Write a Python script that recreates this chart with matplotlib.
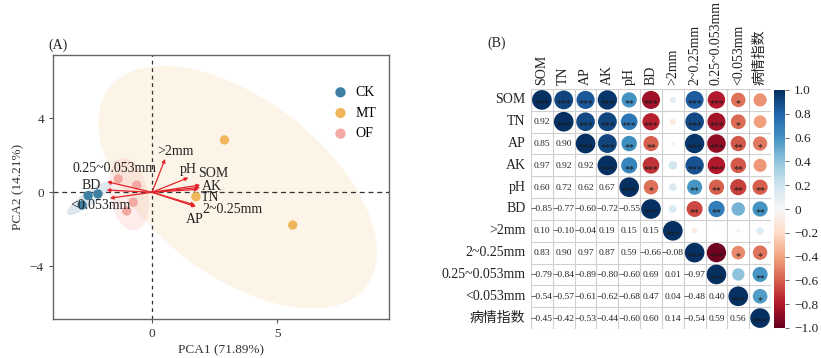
import numpy as np
import matplotlib
matplotlib.use('Agg')
import matplotlib.pyplot as plt
from matplotlib.patches import Ellipse, Circle

plt.rcParams['font.family'] = ['Liberation Serif', 'Noto Sans CJK SC', 'DejaVu Sans']
plt.rcParams['axes.unicode_minus'] = True

# ---------------- data: PCA scores ----------------
groups = ['CK', 'MT', 'OF']
group_colors = ['#3d7fa3', '#f0b65c', '#f3a9a2']
ck_pc1 = [-2.55, -2.16, -2.79]
ck_pc2 = [-0.18, -0.09, -0.69]
mt_pc1 = [2.89, 5.61, 1.75]
mt_pc2 = [2.83, -1.77, -0.24]
of_pc1 = [-1.35, -0.61, -0.75, -1.01]
of_pc2 = [0.72, 0.39, -0.54, -1.01]

# loadings (arrow tips)
load_names = ['>2mm', 'pH', 'SOM', 'AK', 'TN', '2~0.25mm', 'AP',
              '0.25~0.053mm', 'BD', '<0.053mm']
load_pc1 = [0.52, 1.45, 1.92, 1.92, 1.85, 1.72, 1.75, -1.79, -1.81, -1.68]
load_pc2 = [1.80, 0.79, 0.39, 0.27, 0.16, -0.69, -0.78, 0.57, 0.12, -0.32]
# label positions (layout)
label_x = [0.95, 1.44, 2.45, 2.4, 2.32, 3.2, 1.72, -1.5, -2.44, -2.05]
label_y = [2.2, 1.22, 1.02, 0.33, -0.3, -0.95, -1.45, 1.31, 0.39, -0.69]

# ---------------- data: correlation matrix (lower triangle) ----------------
vars_ = ['SOM', 'TN', 'AP', 'AK', 'pH', 'BD', '>2mm', '2~0.25mm',
         '0.25~0.053mm', '<0.053mm', '病情指数']
lower = [
    [],
    [0.92],
    [0.85, 0.90],
    [0.97, 0.92, 0.92],
    [0.60, 0.72, 0.62, 0.67],
    [-0.85, -0.77, -0.60, -0.72, -0.55],
    [0.10, -0.10, -0.04, 0.19, 0.15, 0.15],
    [0.83, 0.90, 0.97, 0.87, 0.59, -0.66, -0.08],
    [-0.79, -0.84, -0.89, -0.80, -0.60, 0.69, 0.01, -0.97],
    [-0.54, -0.57, -0.61, -0.62, -0.68, 0.47, 0.04, -0.48, 0.40],
    [-0.45, -0.42, -0.53, -0.44, -0.60, 0.60, 0.14, -0.54, 0.59, 0.56],
]
# significance stars, upper triangle, row i col j (j > i)
stars_upper = [
    ['***', '***', '***', '**', '***', '', '***', '***', '*', ''],
    ['***', '***', '***', '***', '', '***', '***', '*', ''],
    ['***', '**', '**', '', '***', '***', '**', '*'],
    ['**', '***', '', '***', '***', '**', ''],
    ['*', '', '**', '**', '**', '**'],
    ['', '**', '**', '', '**'],
    ['', '', '', ''],
    ['***', '*', '*'],
    ['', '**'],
    ['*'],
]

n = len(vars_)
corr = np.eye(n)
for i in range(n):
    for j, v in enumerate(lower[i]):
        corr[i, j] = v
        corr[j, i] = v

fig = plt.figure(figsize=(8.21, 3.58), dpi=100)

# ================= Panel A =================
ax = fig.add_axes([53 / 821, 39 / 358, 336 / 821, 264 / 358])
pc1_list = [ck_pc1, mt_pc1, of_pc1]
pc2_list = [ck_pc2, mt_pc2, of_pc2]
ell_scale = [2.8, 2.8, 2.45]
ell_alpha = [0.18, 0.15, 0.22]

for x, y, c, s, a in zip(pc1_list, pc2_list, group_colors, ell_scale, ell_alpha):
    x = np.array(x); y = np.array(y)
    cov = np.cov(x, y)
    vals, vecs = np.linalg.eigh(cov)
    order = vals.argsort()[::-1]
    vals, vecs = vals[order], vecs[:, order]
    ang = np.degrees(np.arctan2(vecs[1, 0], vecs[0, 0]))
    w, h = 2 * s * np.sqrt(vals)
    ax.add_patch(Ellipse((x.mean(), y.mean()), w, h, angle=ang,
                         facecolor=c, alpha=a, edgecolor='none', zorder=1))

ax.axhline(0, color='#333333', ls=(0, (4, 3)), lw=0.9, zorder=2)
ax.axvline(0, color='#333333', ls=(0, (3, 3)), lw=0.9, zorder=2)

for x, y, c, g in zip(pc1_list, pc2_list, group_colors, groups):
    ax.scatter(x, y, s=45, color=c, edgecolor='none', zorder=3, label=g)

for px, py, name, tx, ty in zip(load_pc1, load_pc2, load_names, label_x, label_y):
    ax.annotate('', xy=(px, py), xytext=(0, 0),
                arrowprops=dict(arrowstyle='-|>', color='#e3242b', lw=0.9,
                                mutation_scale=5, shrinkA=0, shrinkB=0),
                zorder=4)
    ax.text(tx, ty, name, fontsize=10, ha='center', va='center',
            color='#222222', zorder=5)

ax.set_xlim(-3.95, 9.45)
ax.set_ylim(-6.85, 7.42)
ax.set_xticks([0, 5])
ax.set_yticks([-4, 0, 4])
ax.set_xticklabels(['0', '5'])
ax.set_yticklabels(['\u22124', '0', '4'])
ax.tick_params(labelsize=9.5, length=3, width=0.8, color='#555555', labelcolor='#333333')
for sp in ax.spines.values():
    sp.set_color('#666666')
    sp.set_linewidth(1.0)
ax.set_xlabel('PCA1 (71.89%)', fontsize=9.5, color='#333333', labelpad=3)
ax.set_ylabel('PCA2 (14.21%)', fontsize=9.5, color='#333333', labelpad=4)
leg = ax.legend(loc='upper right', bbox_to_anchor=(1.0, 0.93), frameon=False,
                fontsize=10, handletextpad=0.1, labelspacing=0.55,
                scatterpoints=1, markerscale=1.1)
fig.text(48 / 821, 1 - 45 / 358, '(A)', fontsize=10, va='center', color='#222222')

# ================= Panel B =================
cmap = plt.get_cmap('RdBu')
bx = fig.add_axes([531 / 821, 29 / 358, 240 / 821, 240 / 358])
bx.set_xlim(0, n)
bx.set_ylim(n, 0)
bx.set_aspect('equal')
bx.axis('off')

for i in range(n + 1):
    bx.plot([0, n], [i, i], color='#d0d0d0', lw=0.8, zorder=1)
    bx.plot([i, i], [0, n], color='#d0d0d0', lw=0.8, zorder=1)

for i in range(n):
    for j in range(n):
        r = corr[i, j]
        if j < i:
            txt = f'{r:.2f}'.replace('-', '\u2212')
            bx.text(j + 0.5, i + 0.52, txt, fontsize=6.8, ha='center',
                    va='center', color='#222222', zorder=3)
        else:
            rad = 0.45 * np.sqrt(abs(r))
            bx.add_patch(Circle((j + 0.5, i + 0.5), rad,
                                facecolor=cmap((r + 1) / 2), edgecolor='none', zorder=2))
            st = '***' if i == j else stars_upper[i][j - i - 1]
            if st:
                bx.text(j + 0.5, i + 0.68, st, fontsize=7, ha='center',
                        va='center', color='#1a1a1a', zorder=3)

for i, v in enumerate(vars_):
    bx.text(-0.25, i + 0.5, v, fontsize=10, ha='right', va='center', color='#222222')
    bx.text(i + 0.5, -0.2, v, fontsize=10, ha='center', va='bottom',
            rotation=90, color='#222222')

fig.text(487 / 821, 1 - 43 / 358, '(B)', fontsize=10, va='center', color='#222222')

cax = fig.add_axes([774 / 821, 30 / 358, 11 / 821, 238 / 358])
sm = plt.cm.ScalarMappable(cmap=cmap, norm=plt.Normalize(-1, 1))
cb = fig.colorbar(sm, cax=cax)
cb.outline.set_visible(False)
ticks = np.round(np.arange(-1.0, 1.01, 0.2), 1)
cb.set_ticks(ticks)
cb.set_ticklabels(['0' if t == 0 else f'{t:.1f}'.replace('-', '\u2212') for t in ticks])
cb.ax.tick_params(labelsize=9.5, length=3, width=0.6, color='#555555', labelcolor='#222222')

fig.savefig('out.png', dpi=100)
